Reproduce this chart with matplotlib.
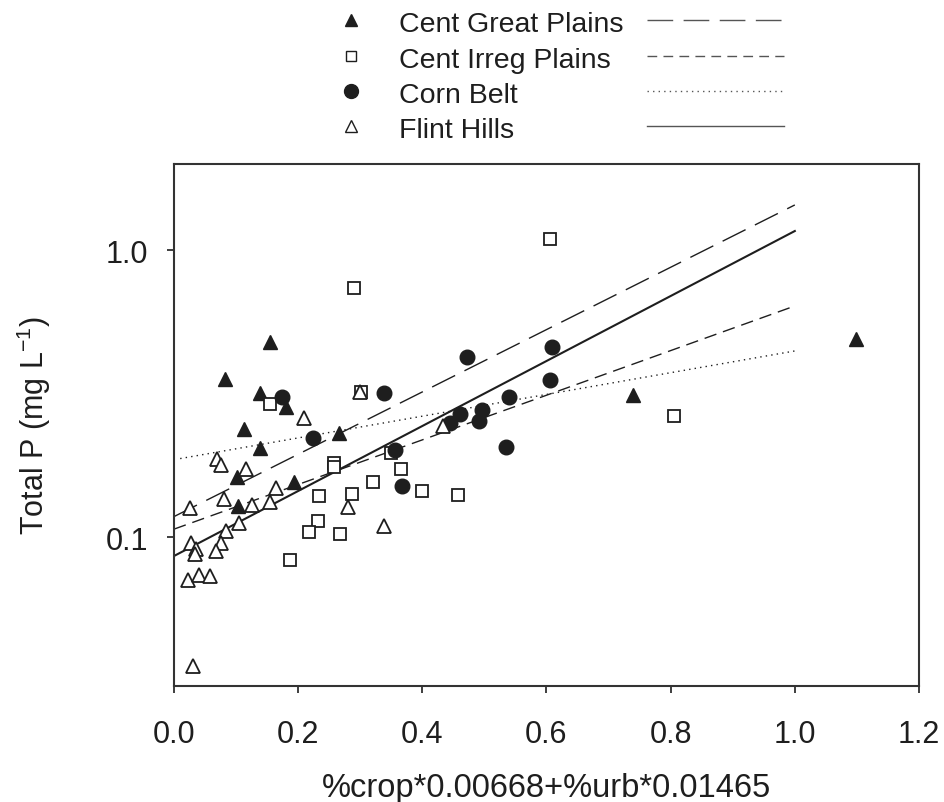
import numpy as np
import matplotlib.pyplot as plt
from matplotlib.lines import Line2D

plt.rcParams['font.family'] = ['Liberation Sans', 'DejaVu Sans']
plt.rcParams['mathtext.default'] = 'regular'

# Données
cgp_x = [0.155, 0.082, 0.139, 0.180, 0.113, 0.139, 0.265, 0.102, 0.194, 0.103, 0.739, 1.098]
cgp_y = [0.479, 0.357, 0.319, 0.284, 0.238, 0.204, 0.230, 0.162, 0.156, 0.128, 0.313, 0.490]

cip_x = [0.290, 0.155, 0.302, 0.605, 0.806, 0.349, 0.258, 0.258, 0.366, 0.320, 0.400,
         0.457, 0.233, 0.286, 0.232, 0.218, 0.268, 0.187]
cip_y = [0.737, 0.292, 0.322, 1.092, 0.265, 0.196, 0.182, 0.176, 0.173, 0.156, 0.145,
         0.140, 0.139, 0.141, 0.114, 0.104, 0.103, 0.0832]

cb_x = [0.174, 0.338, 0.472, 0.461, 0.496, 0.444, 0.492, 0.224, 0.356, 0.367, 0.609,
        0.606, 0.540, 0.534]
cb_y = [0.308, 0.319, 0.426, 0.268, 0.278, 0.251, 0.254, 0.221, 0.201, 0.151, 0.462,
        0.353, 0.307, 0.207]

fh_x = [0.210, 0.299, 0.433, 0.070, 0.075, 0.116, 0.164, 0.081, 0.126, 0.154, 0.025,
        0.281, 0.105, 0.084, 0.338, 0.027, 0.075, 0.036, 0.034, 0.068, 0.023, 0.040,
        0.058, 0.031]
fh_y = [0.261, 0.322, 0.244, 0.188, 0.179, 0.173, 0.148, 0.136, 0.130, 0.133, 0.126,
        0.127, 0.112, 0.105, 0.109, 0.0953, 0.0953, 0.0908, 0.0871, 0.0894, 0.0708,
        0.0737, 0.0731, 0.0356]

# Droites de régression (valeurs aux extrémités)
fit_x = [0.0, 1.0]
cgp_fit = [0.118, 1.44]
cip_fit = [0.1067, 0.640]
cb_fit = [0.188, 0.446]
fh_fit = [0.086, 1.168]

labels = ['Cent Great Plains', 'Cent Irreg Plains', 'Corn Belt', 'Flint Hills']

ink = '#1e1e1e'
fig = plt.figure(figsize=(9.44, 8.03), dpi=100)
ax = fig.add_axes([0.1843, 0.1445, 0.7892, 0.65])

ax.plot(fit_x, cgp_fit, color=ink, lw=1.0, dashes=(18.5, 7.5))
ax.plot(fit_x, cip_fit, color=ink, lw=1.0, dashes=(9, 5))
ax.plot([0.01, 1.0], cb_fit, color=ink, lw=1.0, dashes=(1, 3))
ax.plot(fit_x, fh_fit, color=ink, lw=1.5)

ax.plot(cgp_x, cgp_y, '^', ms=10, color=ink, mec=ink, ls='none')
ax.plot(cip_x, cip_y, 's', ms=9, mfc='white', mec=ink, mew=1.3, ls='none')
ax.plot(cb_x, cb_y, 'o', ms=10.5, color=ink, mec=ink, ls='none')
ax.plot(fh_x, fh_y, '^', ms=10, mfc='white', mec=ink, mew=1.3, ls='none')

ax.set_yscale('log')
ax.set_xlim(0, 1.2)
ax.set_ylim(0.0303, 2.0)
ax.set_xticks([0.0, 0.2, 0.4, 0.6, 0.8, 1.0, 1.2])
ax.set_xticklabels(['0.0', '0.2', '0.4', '0.6', '0.8', '1.0', '1.2'])
ax.set_yticks([0.1, 1.0])
ax.set_yticklabels(['0.1', '1.0'])
ax.minorticks_off()
ax.tick_params(direction='out', length=5, width=1.2, colors=ink, labelsize=22)
ax.tick_params(axis='x', pad=19)
ax.tick_params(axis='y', pad=13.5)
for s in ax.spines.values():
    s.set_linewidth(1.5)
    s.set_color('#333333')

ax.set_xlabel('%crop*0.00668+%urb*0.01465', fontsize=23.5, color=ink, labelpad=16)
ax.set_ylabel('Total P (mg L$^{-1}$)', fontsize=22, color=ink, labelpad=38)

# Légende manuelle (marqueur à gauche, ligne à droite)
W, H = 944, 803
mark_y = [21, 57, 92, 127]
base_y = [32, 68, 103, 138]
mk = [dict(marker='^', ms=9, color=ink), dict(marker='s', ms=7.5, mfc='white', mec=ink, mew=1.0),
      dict(marker='o', ms=10, color=ink), dict(marker='^', ms=9, mfc='white', mec=ink, mew=1.0)]
ls = [dict(dashes=(18.5, 7.5)), dict(dashes=(7, 4.5)), dict(dashes=(1, 3)), dict()]
for i, lab in enumerate(labels):
    fig.add_artist(Line2D([351 / W], [1 - mark_y[i] / H], ls='none', **mk[i]))
    fig.text(399 / W, 1 - base_y[i] / H, lab, fontsize=20.5, color=ink, va='baseline', ha='left')
    fy = 1 - mark_y[i] / H
    fig.add_artist(Line2D([647 / W, 784 / W], [fy, fy], color='#555555', lw=1.0, **ls[i]))

fig.savefig('out.png', dpi=100)
